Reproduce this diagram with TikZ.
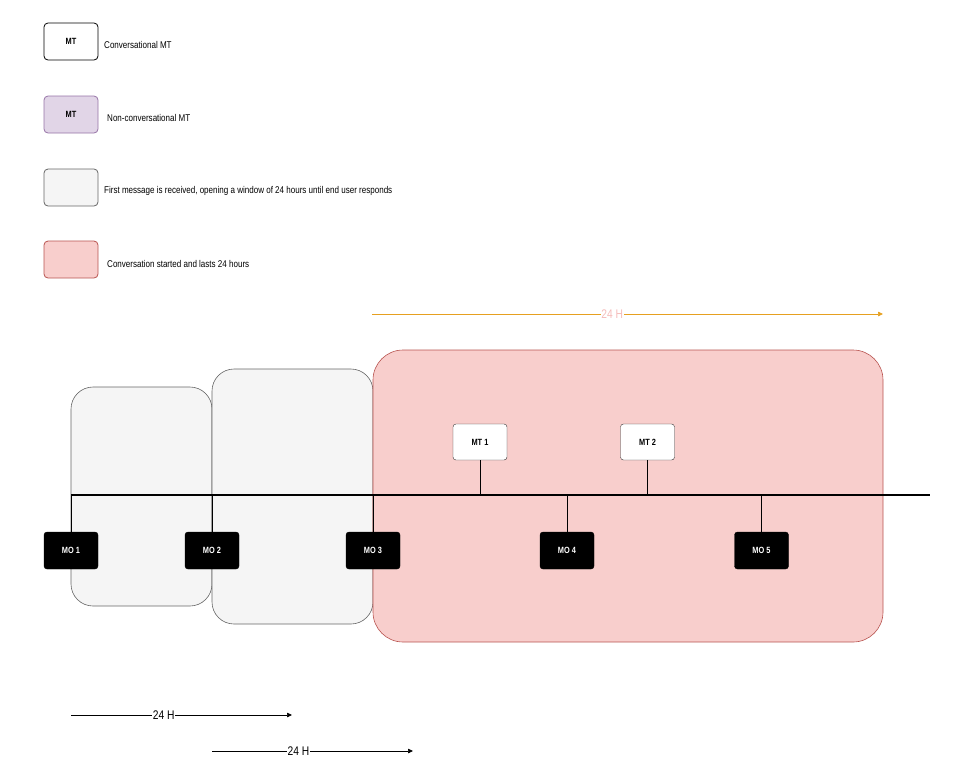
\documentclass[tikz,border=0pt]{standalone}
\usepackage{fontspec}
\setmainfont{Liberation Sans}[FakeStretch=0.82]
\usetikzlibrary{arrows.meta}
\definecolor{grayfill}{HTML}{F5F5F5}
\definecolor{graydraw}{HTML}{666666}
\definecolor{redfill}{HTML}{F8CECC}
\definecolor{reddraw}{HTML}{B85450}
\definecolor{purplefill}{HTML}{E1D5E7}
\definecolor{purpledraw}{HTML}{9673A6}
\definecolor{orangeline}{HTML}{E6A020}
\definecolor{pinktext}{HTML}{F5BCBA}
\tikzset{
  legbox/.style={draw, rounded corners=4pt, minimum width=54pt, minimum height=37pt, line width=0.8pt, inner sep=0pt, font=\bfseries\fontsize{9}{10}\selectfont},
  legtext/.style={anchor=west, font=\fontsize{9.8}{11}\selectfont, inner sep=0pt},
  mobox/.style={draw=black, fill=black, text=white, rounded corners=3pt, minimum width=54pt, minimum height=37pt, inner sep=0pt, font=\bfseries\fontsize{9}{10}\selectfont},
  mtbox/.style={draw=black!80, fill=white, rounded corners=3pt, minimum width=54pt, minimum height=36pt, inner sep=0pt, font=\bfseries\fontsize{9}{10}\selectfont},
  window/.style={draw=graydraw, fill=grayfill, rounded corners=22pt, line width=0.6pt, inner sep=0pt},
  convwin/.style={draw=reddraw, fill=redfill, rounded corners=30pt, line width=0.6pt, inner sep=0pt},
  tick/.style={line width=0.9pt},
  arr/.style={-{Triangle[length=5pt,width=4.5pt]}, line width=0.7pt},
  arrlabel/.style={fill=white, inner sep=0.5pt, font=\fontsize{12.5}{13}\selectfont}
}
\begin{document}
\begin{tikzpicture}[x=1pt, y=-1pt]
\useasboundingbox (0,0) rectangle (966,780);
% legend
\node[legbox, draw=black, fill=white] (lg1) at (71,41.5) {MT};
\node[legtext] (lt1) at (104,45) {Conversational MT};
\node[legbox, draw=purpledraw, fill=purplefill] (lg2) at (71,114.5) {MT};
\node[legtext] (lt2) at (107,118) {Non-conversational MT};
\node[legbox, draw=graydraw, fill=grayfill] (lg3) at (71,187.5) {};
\node[legtext] (lt3) at (104,191) {First message is received, opening a window of 24 hours until end user responds};
\node[legbox, draw=reddraw, fill=redfill] (lg4) at (71,259.5) {};
\node[legtext] (lt4) at (107,264) {Conversation started and lasts 24 hours};
% windows
\node[window, minimum width=141pt, minimum height=219pt] (w1) at (141.5,496.5) {};
\node[window, minimum width=161pt, minimum height=255pt] (w2) at (292.5,496.5) {};
\node[convwin, minimum width=510pt, minimum height=292pt] (w3) at (628,496) {};
% orange arrow
\coordinate (oa1) at (372,314);
\coordinate (oa2) at (883,314);
\draw[arr, draw=orangeline, -{Triangle[length=5pt,width=4.5pt,fill=orangeline]}] (oa1) -- node[arrlabel, text=pinktext, pos=0.47] (oal) {24 H} (oa2);
% timeline
\coordinate (tlL) at (71,495);
\coordinate (tlR) at (930,495);
\draw[line width=1.4pt] (tlL) -- (tlR);
% MO boxes
\node[mobox] (mo1) at (71,550.5) {MO 1};
\node[mobox] (mo2) at (212,550.5) {MO 2};
\node[mobox] (mo3) at (373,550.5) {MO 3};
\node[mobox] (mo4) at (567,550.5) {MO 4};
\node[mobox] (mo5) at (761.5,550.5) {MO 5};
\foreach \m in {mo1,mo2,mo3,mo4,mo5}{
  \draw[tick] (\m.north) -- (\m.north |- tlL);
}
% MT boxes
\node[mtbox] (mt1) at (480,442) {MT 1};
\node[mtbox] (mt2) at (647.5,442) {MT 2};
\foreach \m in {mt1,mt2}{
  \draw[tick] (\m.south) -- (\m.south |- tlL);
}
% bottom arrows
\coordinate (ba1) at (71,715);
\coordinate (ba2) at (292,715);
\draw[arr] (ba1) -- node[arrlabel, pos=0.42] (bl1) {24 H} (ba2);
\coordinate (bb1) at (212,751);
\coordinate (bb2) at (413,751);
\draw[arr] (bb1) -- node[arrlabel, pos=0.43] (bl2) {24 H} (bb2);
\end{tikzpicture}
\end{document}
